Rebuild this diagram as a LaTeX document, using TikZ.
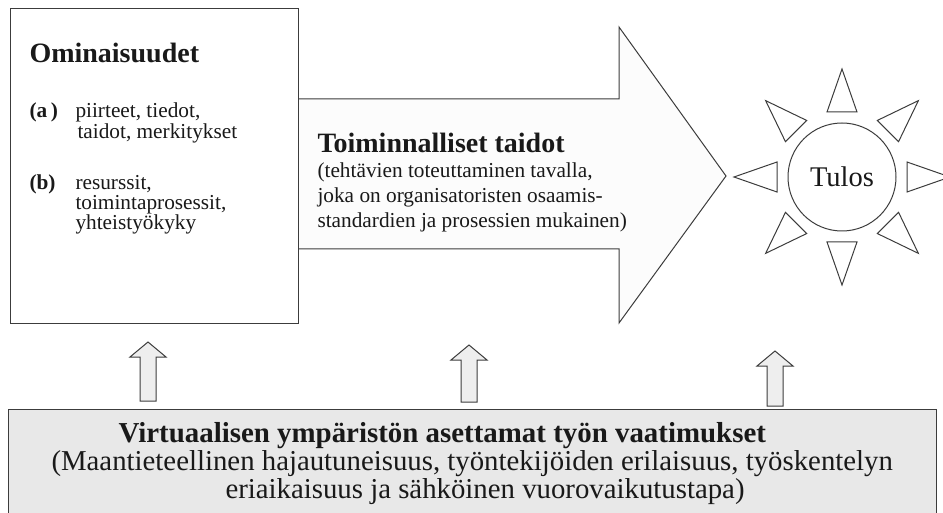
\documentclass[tikz,border=0pt]{standalone}
\usepackage{fontspec}
\setmainfont{Liberation Serif}
\usetikzlibrary{positioning,calc}
\definecolor{inkline}{RGB}{60,60,60}
\definecolor{inktext}{RGB}{25,25,25}
\definecolor{shaftfill}{RGB}{252,252,252}
\definecolor{basefill}{RGB}{232,232,232}
\definecolor{upfill}{RGB}{238,238,238}

\begin{document}
\begin{tikzpicture}[x=1pt,y=-1pt,line width=1pt,
  every node/.style={inner sep=0pt,text=inktext},
  headtext/.style={font=\fontsize{28}{32}\selectfont\bfseries},
  smalltext/.style={font=\fontsize{21.3}{25}\selectfont},
  basetext/.style={font=\fontsize{28.8}{32}\selectfont}]
  \useasboundingbox (0,0) rectangle (943,513);
  \clip (0,0) rectangle (943,513);
  % big arrow towards the result
  \coordinate (sh1) at (298,99); \coordinate (sh2) at (298,249);
  \draw[inkline,fill=shaftfill] (sh1) -- (619,99) -- (619,27) -- (726,176) -- (619,323) -- (619,249) -- (sh2);
  \node[draw=inkline,fill=white,minimum width=288,minimum height=314] (props) at (154,166) {};
  \node[headtext,anchor=base west] (propshead) at (29,63) {Ominaisuudet};
  \foreach \tx/\ty/\tt in {29/118/{\textbf{(a\,)}},75/118/{piirteet, tiedot,},77/139/{taidot, merkitykset},
                           29/190/{\textbf{(b)}},75/190/{resurssit,},75/210/{toimintaprosessit,},75/230/{yhteistyökyky}}
    \node[smalltext,anchor=base west] at (\tx,\ty) {\tt};
  \node[headtext,anchor=base west] (skillhead) at (317,153) {Toiminnalliset taidot};
  \foreach \ty/\tt in {178/{(tehtävien toteuttaminen tavalla,},203/{joka on organisatoristen osaamis-},228/{standardien ja prosessien mukainen)}}
    \node[smalltext,anchor=base west] at (317,\ty) {\tt};
  % sun
  \node[circle,draw=inkline,minimum size=108,font=\fontsize{28.5}{32}\selectfont] (tulos) at (842,177) {Tulos};
  \foreach \a in {0,45,...,315}
    \draw[inkline,shift={(tulos.center)},rotate=\a] (65,15) -- (108,0) -- (65,-15) -- cycle;
  % requirements
  \node[draw=inkline,fill=basefill,minimum width=928,minimum height=120,anchor=north west] (needs) at (8,409) {};
  \node[headtext,font=\fontsize{28.9}{32}\selectfont\bfseries,anchor=base west] (needshead) at (118,442) {Virtuaalisen ympäristön asettamat työn vaatimukset};
  \node[basetext,anchor=base west] (needs2) at (51,470) {(Maantieteellinen hajautuneisuus, työntekijöiden erilaisuus, työskentelyn};
  \node[basetext,anchor=base west] (needs3) at (225,498) {eriaikaisuus ja sähköinen vuorovaikutustapa)};
  \foreach \ux/\ut/\ub in {148/342/401,469/345/402,775/351/406}
    \draw[inkline,fill=upfill] (\ux,\ut) -- (\ux+18,\ut+15) -- (\ux+8,\ut+15) -- (\ux+8,\ub)
      -- (\ux-8,\ub) -- (\ux-8,\ut+15) -- (\ux-18,\ut+15) -- cycle;
\end{tikzpicture}
\end{document}
